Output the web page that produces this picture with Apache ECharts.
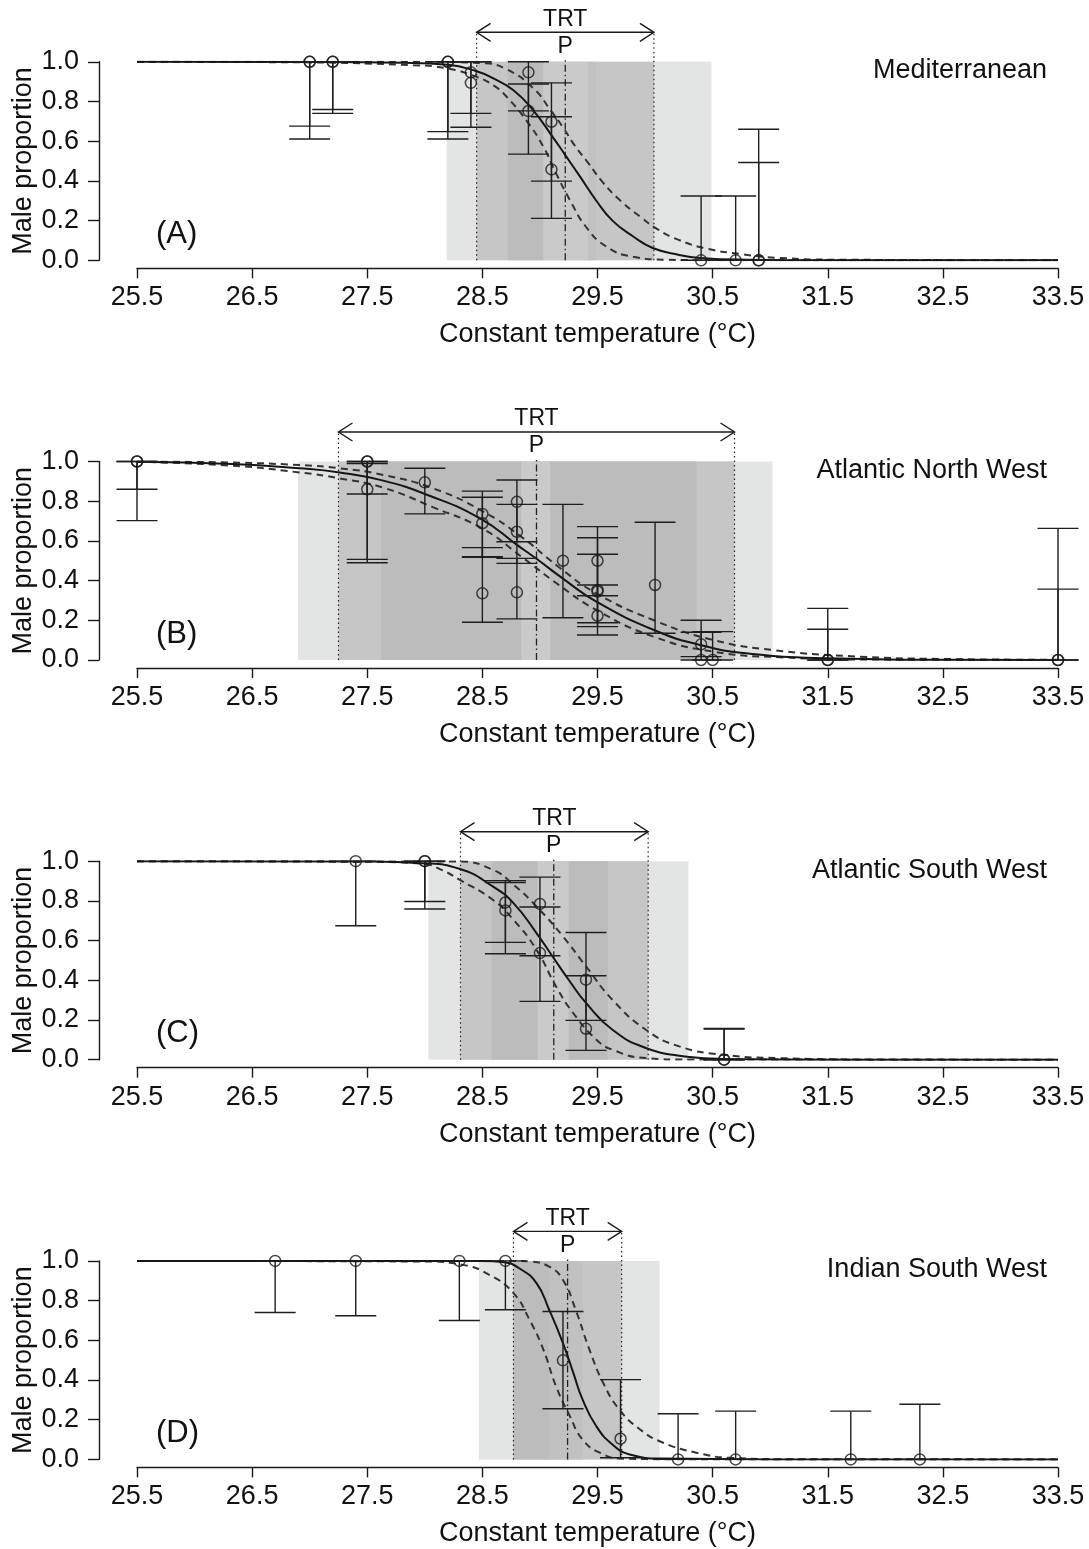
<!DOCTYPE html>
<html><head><meta charset="utf-8">
<script src="https://cdn.jsdelivr.net/npm/echarts@6/dist/echarts.min.js"></script>
<style>html,body{margin:0;padding:0;background:#fff}#c{width:1089px;height:1549px}</style>
</head><body><div id="c"></div>
<script>
// ---------------- DATA ----------------
const panelLabels = ['(A)', '(B)', '(C)', '(D)'];
const regionNames = ['Mediterranean', 'Atlantic North West', 'Atlantic South West', 'Indian South West'];
const xTickMin = 25.5, xTickMax = 33.5, xTickStep = 1;
const yTickMin = 0, yTickMax = 1, yTickStep = 0.2;

// TRT: [lower limit, upper limit, pivotal temperature P]
const trtA = [28.45, 29.99, 29.22];
const trtB = [27.25, 30.69, 28.97];
const trtC = [28.31, 29.94, 29.12];
const trtD = [28.77, 29.71, 29.24];

// shaded bands: [from, to, shade level]
const bandsA = [[28.19, 30.49, 0], [28.45, 29.99, 1], [28.72, 29.03, 2], [29.03, 29.42, 3], [29.42, 29.49, 4]];
const bandsB = [[26.90, 31.02, 0], [27.25, 30.69, 1], [27.62, 28.84, 2], [28.84, 29.09, 3], [29.09, 30.36, 2]];
const bandsC = [[28.03, 30.29, 0], [28.31, 29.94, 1], [28.58, 28.98, 2], [28.98, 29.25, 3], [29.25, 29.59, 2]];
const bandsD = [[28.47, 30.04, 0], [28.77, 29.71, 1], [28.77, 29.08, 2], [29.08, 29.37, 4]];

// observations: [temperature, male proportion, lower CI, upper CI]
const obsA = [[27.0,1,0.676,1],[27.0,1,0.611,1],[27.2,1,0.760,1],[27.2,1,0.740,1],[28.2,1,0.648,1],[28.2,1,0.611,1],
  [28.4,0.947,0.740,1],[28.4,0.894,0.670,1],[28.9,0.947,0.753,1],[28.9,0.752,0.535,0.888],
  [29.1,0.698,0.399,0.894],[29.1,0.458,0.211,0.723],[30.4,0,0,0.324],[30.7,0,0,0.324],[30.9,0,0,0.660],[30.9,0,0,0.493]];
const obsB = [[25.5,1,0.860,1],[25.5,1,0.702,1],[27.5,1,0.836,1],[27.5,1,0.49,1],[27.5,0.86,0.507,0.99],
  [28.0,0.895,0.736,0.966],[28.5,0.736,0.517,0.851],[28.5,0.689,0.52,0.820],[28.5,0.336,0.19,0.566],
  [28.8,0.797,0.596,0.907],[28.8,0.646,0.487,0.784],[28.8,0.341,0.207,0.512],[29.2,0.5,0.213,0.784],
  [29.5,0.5,0.324,0.672],[29.5,0.353,0.188,0.533],[29.5,0.345,0.168,0.616],[29.5,0.223,0.126,0.378],
  [30.0,0.378,0.135,0.694],[30.4,0.079,0.017,0.2],[30.4,0,0,0.14],[30.5,0,0,0.143],
  [31.5,0,0,0.26],[31.5,0,0,0.155],[33.5,0,0,0.663],[33.5,0,0,0.357]];
const obsC = [[27.4,1,0.675,1],[28.0,1,0.797,1],[28.0,1,0.759,1],[28.7,0.792,0.534,0.902],[28.7,0.752,0.591,0.893],
  [29.0,0.785,0.524,0.92],[29.0,0.537,0.294,0.769],[29.4,0.403,0.198,0.641],[29.4,0.156,0.047,0.423],
  [30.6,0,0,0.155],[30.6,0,0,0.157]];
const obsD = [[26.7,1,0.74,1],[27.4,1,0.724,1],[28.3,1,0.70,1],[28.7,1,0.754,1],[29.2,0.499,0.255,0.745],
  [29.7,0.104,0.008,0.402],[30.2,0,0,0.23],[30.7,0,0,0.243],[31.7,0,0,0.243],[32.3,0,0,0.278]];

// fitted curve and its confidence limits: [temperature, proportion]
const fitA = [[25.5,1],[27.0,0.999],[27.8,0.995],[28.2,0.985],[28.45,0.952],[28.6,0.915],[28.77,0.857],[28.94,0.757],[29.11,0.622],[29.22,0.53],[29.35,0.42],[29.49,0.30],[29.63,0.20],[29.81,0.12],[29.98,0.062],[30.21,0.027],[30.39,0.012],[30.8,0.003],[31.5,0],[33.5,0]];
const hiA = [[25.5,1],[28.0,1],[28.5,0.993],[28.7,0.965],[28.94,0.868],[29.1,0.75],[29.2,0.67],[29.3,0.58],[29.42,0.49],[29.55,0.39],[29.7,0.30],[29.87,0.22],[30.02,0.157],[30.2,0.104],[30.44,0.06],[30.75,0.031],[31.08,0.012],[31.6,0.003],[33.5,0]];
const loA = [[25.5,1],[26.74,0.998],[27.9,0.983],[28.19,0.967],[28.45,0.924],[28.6,0.88],[28.71,0.824],[28.88,0.706],[29.03,0.572],[29.14,0.438],[29.26,0.304],[29.4,0.169],[29.58,0.068],[29.81,0.018],[30.1,0.003],[30.6,0],[33.5,0]];

const fitB = [[25.5,0.999],[26.33,0.988],[26.91,0.966],[27.26,0.945],[27.63,0.905],[28.03,0.83],[28.49,0.71],[28.8,0.58],[28.97,0.51],[29.2,0.41],[29.49,0.294],[29.99,0.151],[30.39,0.076],[30.79,0.034],[31.49,0.009],[32.5,0.001],[33.5,0]];
const hiB = [[25.5,1],[26.3,0.995],[26.91,0.982],[27.26,0.966],[27.64,0.932],[28.07,0.865],[28.5,0.75],[28.84,0.62],[29.16,0.47],[29.49,0.336],[29.99,0.2],[30.51,0.1],[31.03,0.05],[31.67,0.02],[32.5,0.005],[33.5,0.001]];
const loB = [[25.5,0.998],[26.3,0.98],[26.91,0.945],[27.26,0.915],[27.64,0.868],[28.07,0.77],[28.5,0.662],[28.84,0.52],[29.16,0.38],[29.49,0.252],[29.99,0.117],[30.51,0.042],[31.08,0.014],[32.0,0.002],[33.5,0]];

const fitC = [[25.5,1],[27.5,0.998],[27.98,0.99],[28.3,0.962],[28.59,0.873],[28.77,0.789],[28.97,0.638],[29.11,0.52],[29.26,0.394],[29.4,0.286],[29.63,0.151],[29.92,0.059],[30.3,0.014],[30.59,0.004],[31.5,0],[33.5,0]];
const hiC = [[25.5,1],[28.3,0.998],[28.59,0.957],[28.77,0.882],[28.97,0.772],[29.2,0.621],[29.4,0.47],[29.63,0.302],[29.92,0.151],[30.21,0.067],[30.59,0.025],[31.08,0.008],[32.0,0.001],[33.5,0]];
const loC = [[25.5,1],[27.5,0.997],[27.98,0.987],[28.15,0.955],[28.3,0.907],[28.59,0.806],[28.77,0.705],[28.97,0.554],[29.14,0.369],[29.29,0.234],[29.49,0.101],[29.63,0.05],[29.92,0.008],[30.3,0.001],[33.5,0]];

const fitD = [[25.5,1],[28.5,0.999],[28.69,0.993],[28.82,0.963],[28.97,0.888],[29.08,0.754],[29.2,0.586],[29.29,0.436],[29.37,0.302],[29.49,0.167],[29.63,0.075],[29.78,0.025],[30.07,0.004],[31.0,0],[33.5,0]];
const hiD = [[25.5,1],[28.8,1],[28.91,0.997],[29.08,0.971],[29.2,0.904],[29.31,0.754],[29.43,0.553],[29.55,0.385],[29.69,0.251],[29.87,0.151],[30.07,0.084],[30.36,0.034],[30.65,0.008],[31.2,0.001],[33.5,0]];
const loD = [[25.5,1],[28.0,0.997],[28.33,0.98],[28.56,0.93],[28.77,0.838],[28.91,0.703],[29.03,0.553],[29.14,0.368],[29.26,0.218],[29.37,0.1],[29.52,0.034],[29.72,0.004],[30.2,0],[33.5,0]];

// ---------------- BUILD ----------------
const FONT = '"Liberation Sans", Arial, Helvetica, sans-serif';
const SHADES = ['#e3e4e4', '#c6c6c6', '#bcbcbc', '#cacaca', '#c1c1c1'];
const panels = [
  {trt: trtA, bands: bandsA, obs: obsA, fit: fitA, hi: hiA, lo: loA},
  {trt: trtB, bands: bandsB, obs: obsB, fit: fitB, hi: hiB, lo: loB},
  {trt: trtC, bands: bandsC, obs: obsC, fit: fitC, hi: hiC, lo: loC},
  {trt: trtD, bands: bandsD, obs: obsD, fit: fitD, hi: hiD, lo: loD}
];
const GRID_LEFT = 137, GRID_W = 921, GRID_H = 198.5, STEP = 399.7, TOP0 = 61.8;

function renderBand(params, api) {
  const p0 = api.coord([api.value(0), 1]);
  const p1 = api.coord([api.value(1), 0]);
  return {type: 'rect', shape: {x: p0[0], y: p0[1], width: p1[0] - p0[0], height: p1[1] - p0[1]},
    style: {fill: SHADES[api.value(2)]}};
}
function renderErr(params, api) {
  const x = api.value(0), lo = api.value(2), hi = api.value(3);
  const a = api.coord([x, hi]), b = api.coord([x, lo]);
  const w = 20.5;
  const st = {stroke: '#1e1e1e', lineWidth: 1.4};
  return {type: 'group', children: [
    {type: 'line', shape: {x1: a[0], y1: a[1], x2: b[0], y2: b[1]}, style: st},
    {type: 'line', shape: {x1: a[0] - w, y1: a[1], x2: a[0] + w, y2: a[1]}, style: st},
    {type: 'line', shape: {x1: b[0] - w, y1: b[1], x2: b[0] + w, y2: b[1]}, style: st}
  ]};
}
function renderTRT(params, api) {
  const lo = api.value(0), hi = api.value(1), p = api.value(2);
  const a0 = api.coord([lo, 0]), a1 = api.coord([lo, 1]);
  const b0 = api.coord([hi, 0]);
  const p0 = api.coord([p, 0]);
  const yA = a1[1] - 29.5;
  const dot = {stroke: '#222', lineWidth: 1.2, lineDash: [1.5, 3]};
  const dd = {stroke: '#222', lineWidth: 1.3, lineDash: [7, 3, 1.5, 3]};
  const ar = {stroke: '#1a1a1a', lineWidth: 1.4, fill: null};
  const xm = (a0[0] + b0[0]) / 2;
  const ts = {fill: '#111', fontSize: 23, fontFamily: FONT, align: 'center', verticalAlign: 'middle'};
  return {type: 'group', children: [
    {type: 'line', shape: {x1: a0[0], y1: a0[1], x2: a0[0], y2: yA}, style: dot},
    {type: 'line', shape: {x1: b0[0], y1: b0[1], x2: b0[0], y2: yA}, style: dot},
    {type: 'line', shape: {x1: p0[0], y1: p0[1], x2: p0[0], y2: a1[1] - 4}, style: dd},
    {type: 'line', shape: {x1: a0[0], y1: yA, x2: b0[0], y2: yA}, style: ar},
    {type: 'polyline', shape: {points: [[a0[0] + 14, yA - 9], [a0[0], yA], [a0[0] + 14, yA + 9]]}, style: ar},
    {type: 'polyline', shape: {points: [[b0[0] - 14, yA - 9], [b0[0], yA], [b0[0] - 14, yA + 9]]}, style: ar},
    {type: 'text', style: Object.assign({text: 'TRT', x: xm, y: yA - 13}, ts)},
    {type: 'text', style: Object.assign({text: 'P', x: p0[0], y: yA + 14}, ts)}
  ]};
}

const grids = [], xAxes = [], yAxes = [], series = [], graphics = [];
panels.forEach((pn, i) => {
  const top = TOP0 + STEP * i;
  grids.push({left: GRID_LEFT, top: top, width: GRID_W, height: GRID_H, containLabel: false, outerBoundsMode: 'none'});
  xAxes.push({gridIndex: i, type: 'value', min: xTickMin, max: xTickMax, interval: xTickStep, offset: 8,
    axisLine: {show: true, onZero: false, lineStyle: {color: '#1a1a1a', width: 1.4}},
    axisTick: {show: true, length: 10, lineStyle: {color: '#1a1a1a', width: 1.4}},
    axisLabel: {fontSize: 27, color: '#111', margin: 16, fontFamily: FONT, formatter: v => v.toFixed(1)},
    splitLine: {show: false},
    name: 'Constant temperature (°C)', nameLocation: 'middle', nameGap: 53,
    nameTextStyle: {fontSize: 27, color: '#111', fontFamily: FONT}});
  yAxes.push({gridIndex: i, type: 'value', min: yTickMin, max: yTickMax, interval: yTickStep, offset: 38,
    axisLine: {show: true, lineStyle: {color: '#1a1a1a', width: 1.4}},
    axisTick: {show: true, length: 11, lineStyle: {color: '#1a1a1a', width: 1.4}},
    axisLabel: {fontSize: 27, color: '#111', margin: 20, fontFamily: FONT, formatter: v => v.toFixed(1)},
    splitLine: {show: false},
    name: 'Male proportion', nameLocation: 'middle', nameGap: 62, nameRotate: 90, nameMoveOverlap: false,
    nameTextStyle: {fontSize: 27, color: '#111', fontFamily: FONT}});
  series.push({type: 'custom', xAxisIndex: i, yAxisIndex: i, renderItem: renderBand, data: pn.bands, z: 1, silent: true});
  series.push({type: 'custom', xAxisIndex: i, yAxisIndex: i, renderItem: renderTRT, data: [pn.trt], z: 2, silent: true});
  [[pn.lo, 'dash'], [pn.hi, 'dash'], [pn.fit, 'solid']].forEach(([d, kind]) => {
    series.push({type: 'line', xAxisIndex: i, yAxisIndex: i, data: d, showSymbol: false, smooth: 0.5,
      lineStyle: kind === 'solid' ? {color: '#151515', width: 2} : {color: '#333', width: 2, type: [7, 5]},
      z: 3, silent: true});
  });
  series.push({type: 'custom', xAxisIndex: i, yAxisIndex: i, renderItem: renderErr, data: pn.obs, z: 4, silent: true});
  series.push({type: 'scatter', xAxisIndex: i, yAxisIndex: i, data: pn.obs.map(o => [o[0], o[1]]), symbol: 'circle', symbolSize: 11,
    itemStyle: {color: 'rgba(0,0,0,0)', borderColor: '#1a1a1a', borderWidth: 1.5}, z: 5, silent: true});
  graphics.push({type: 'text', x: 156, y: top + 157, style: {text: panelLabels[i], fill: '#111', fontSize: 31, fontFamily: FONT}});
  graphics.push({type: 'text', x: 1047, y: top + 9, style: {text: regionNames[i], fill: '#111', fontSize: 27, fontFamily: FONT, align: 'right', verticalAlign: 'middle'}});
});

const chart = echarts.init(document.getElementById('c'), null, {renderer: 'canvas'});
chart.setOption({
  animation: false, backgroundColor: '#fff',
  textStyle: {fontFamily: FONT},
  grid: grids, xAxis: xAxes, yAxis: yAxes, series: series, graphic: graphics
});
</script></body></html>
